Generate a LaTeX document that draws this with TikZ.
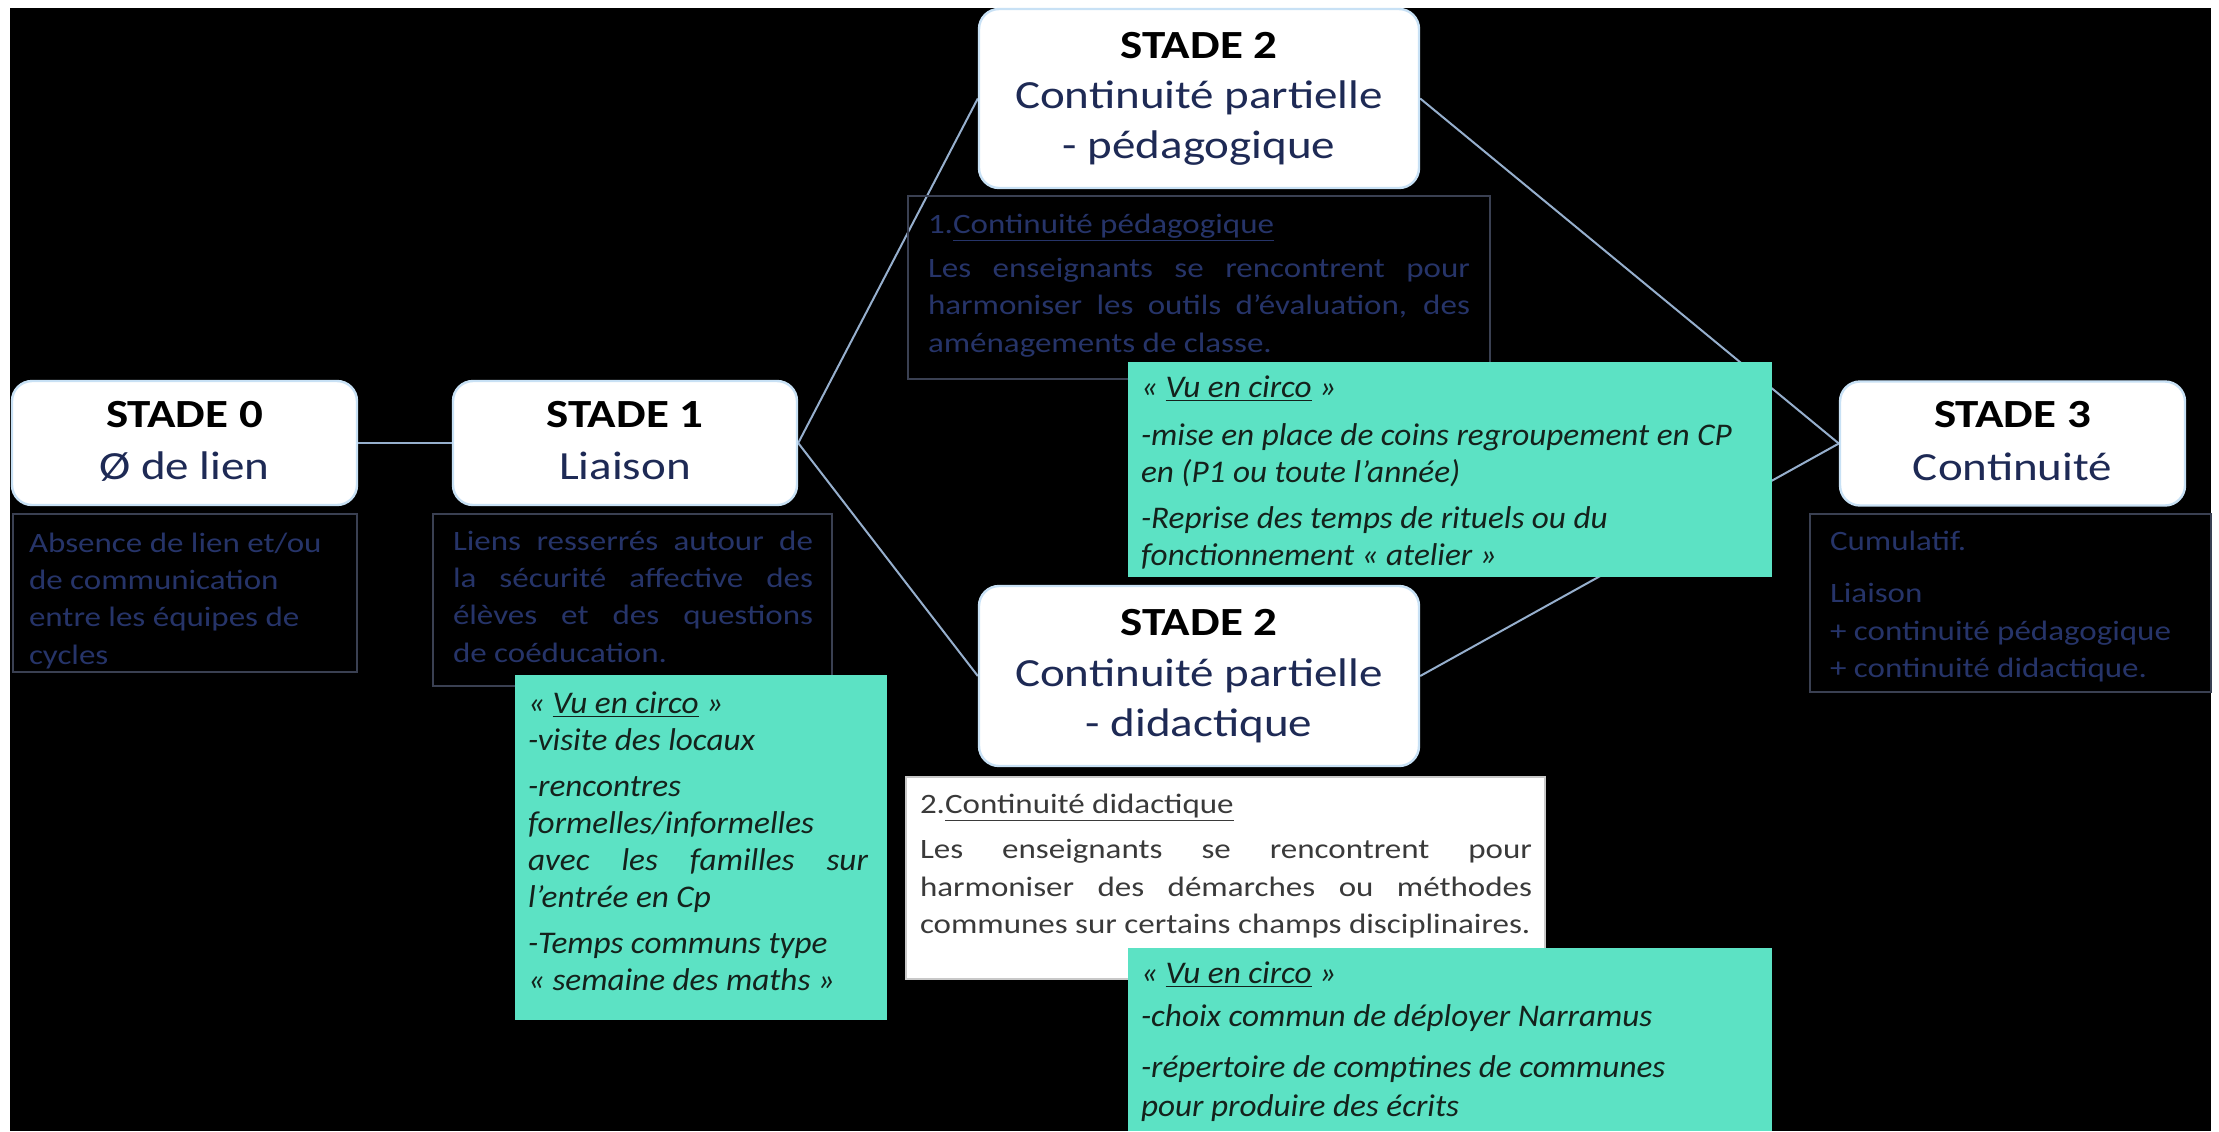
\documentclass[tikz,border=0pt]{standalone}
\usepackage{fontspec}
\setmainfont{Carlito}
\usepackage{graphicx}
\definecolor{stsub}{RGB}{30,42,85}
\definecolor{conn}{RGB}{150,175,205}
\definecolor{dborder}{RGB}{58,64,82}
\definecolor{dtextc}{RGB}{38,52,105}
\definecolor{vert}{RGB}{92,226,196}
\definecolor{vtext}{RGB}{20,34,28}
\definecolor{wtext}{RGB}{58,58,58}
\definecolor{wborder}{RGB}{200,200,200}
\definecolor{stedge}{RGB}{200,225,245}
\newcommand\stsq{0.85}
\newcommand\dsq{0.85}
\newcommand\gsq{0.95}
\newcommand\jl[1]{\makebox[\linewidth][s]{#1}\\}
\newcommand\stagetxt[2]{\scalebox{1}[\stsq]{\fontsize{23.5}{#1}\selectfont\begin{tabular}{@{}c@{}}#2\end{tabular}}}
\newcommand\desctxt[2]{\scalebox{1}[\dsq]{\parbox[t]{#1}{\fontsize{16.5}{22}\selectfont\raggedright #2}}}
\newcommand\verttxt[2]{\scalebox{1}[\gsq]{\parbox[t]{#1}{\fontsize{16.6}{19.5}\selectfont\itshape\raggedright #2}}}
\pgfdeclarelayer{bg}
\pgfdeclarelayer{lines}
\pgfsetlayers{bg,lines,main}
\begin{document}
\begin{tikzpicture}[x=0.5pt,y=-0.5pt,
 stage/.style={draw=stedge, line width=1.2pt, fill=white, rounded corners=10pt, inner sep=0pt},
 dbox/.style={draw=dborder, line width=0.8pt, inner sep=0pt},
 wbox/.style={draw=wborder, line width=0.6pt, fill=white, inner sep=0pt},
 gbox/.style={fill=vert, inner sep=0pt},
 link/.style={draw=conn, line width=1pt},
 txt/.style={anchor=base west, inner sep=0pt, outer sep=0pt}]
\useasboundingbox (0,0) rectangle (2219,1131);
\begin{pgfonlayer}{bg}
\fill[white] (0,0) rectangle (2219,1131);
\fill[black] (10,8) rectangle (2211,1131);
\end{pgfonlayer}

% stage boxes
\node[stage, minimum width=172.5pt, minimum height=62pt] (s0) at (184.5,443) {\stagetxt{31}{\textbf{STADE 0}\\ \color{stsub}Ø de lien}};
\node[stage, minimum width=172pt, minimum height=62pt] (s1) at (625,443) {\stagetxt{31}{\textbf{STADE 1}\\ \color{stsub}Liaison}};
\node[stage, minimum width=220pt, minimum height=89.5pt] (s2p) at (1199,98.5) {\stagetxt{29.5}{\textbf{STADE 2}\\ \color{stsub}Continuité partielle\\ \color{stsub}- pédagogique}};
\node[stage, minimum width=220pt, minimum height=90pt] (s2d) at (1199,676) {\stagetxt{29.5}{\textbf{STADE 2}\\ \color{stsub}Continuité partielle\\ \color{stsub}- didactique}};
\node[stage, minimum width=172.5pt, minimum height=62pt] (s3) at (2012.5,443.5) {\stagetxt{31}{\textbf{STADE 3}\\ \color{stsub}Continuité}};

% connectors
\begin{pgfonlayer}{lines}
\draw[link] (s0.east) -- (s1.west);
\draw[link] (s1.east) -- (s2p.west);
\draw[link] (s1.east) -- (s2d.west);
\draw[link] (s2p.east) -- (s3.west);
\draw[link] (s2d.east) -- (s3.west);
\end{pgfonlayer}

% description boxes
\node[dbox, minimum width=172pt, minimum height=79pt] (d0) at (185,593) {};
\node[dbox, minimum width=199.5pt, minimum height=86pt] (d1) at (632.5,600) {};
\node[dbox, minimum width=291pt, minimum height=91.5pt] (d2p) at (1199,287.5) {};
\node[wbox, minimum width=319.5pt, minimum height=101pt] (d2d) at (1225.5,878) {};
\node[dbox, minimum width=200.5pt, minimum height=89pt] (d3) at (2010.5,603) {};

% green boxes
\node[gbox, minimum width=186pt, minimum height=172.5pt] (g1) at (701,847.5) {};
\node[gbox, minimum width=322pt, minimum height=107.5pt] (g2) at (1450,469.5) {};
\node[gbox, minimum width=322pt, minimum height=91.5pt] (g3) at (1450,1039.5) {};

% description texts
\node[txt, text=dtextc] (t0) at (29,552) {\desctxt{160pt}{Absence de lien et/ou\\de communication\\entre les équipes de\\cycles}};
\node[txt, text=dtextc] (t1) at (453,550) {\desctxt{180pt}{\jl{Liens resserrés autour de}\jl{la sécurité affective des}\jl{élèves et des questions}de coéducation.}};
\node[txt, text=dtextc] (t2p) at (928,233) {\desctxt{271pt}{1.\underline{Continuité pédagogique}\\[4pt]\jl{Les enseignants se rencontrent pour}\jl{harmoniser les outils d’évaluation, des}aménagements de classe.}};
\node[txt, text=wtext] (t2d) at (920,813) {\desctxt{306pt}{2.\underline{Continuité didactique}\\[5pt]\jl{Les enseignants se rencontrent pour}\jl{harmoniser des démarches ou méthodes}communes sur certains champs disciplinaires.}};
\node[txt, text=dtextc] (t3) at (1830,550) {\desctxt{185pt}{Cumulatif.\\[9pt]Liaison\\+ continuité pédagogique\\+ continuité didactique.}};

% green texts
\node[txt, text=vtext] (v1) at (528,713) {\verttxt{170pt}{« \underline{Vu en circo} »\\-visite des locaux\\[4.7pt]-rencontres\\formelles/informelles\\ \jl{avec les familles sur}l’entrée en Cp\\[4.7pt]-Temps communs type\\« semaine des maths »}};
\node[txt, text=vtext] (v2) at (1141,397) {\verttxt{312pt}{« \underline{Vu en circo} »\\[6pt]-mise en place de coins regroupement en CP\\en (P1 ou toute l’année)\\[4.7pt]-Reprise des temps de rituels ou du\\fonctionnement « atelier »}};
\node[txt, text=vtext] (v3) at (1141,983) {\verttxt{312pt}{« \underline{Vu en circo} »\\[3.5pt]-choix commun de déployer Narramus\\[7pt]-répertoire de comptines de communes\\[1.5pt]pour produire des écrits}};
\end{tikzpicture}
\end{document}
